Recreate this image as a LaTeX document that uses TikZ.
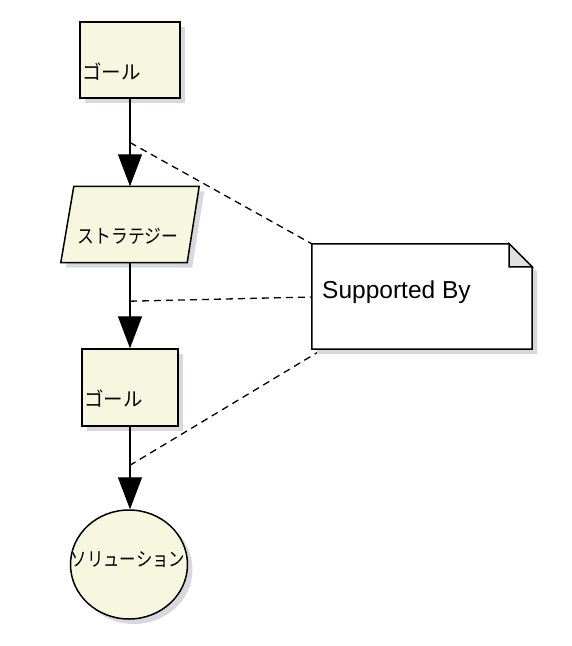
\documentclass[tikz,border=0pt]{standalone}
\usepackage{fontspec}
\usepackage{graphicx}
\setmainfont{Liberation Sans}
\newfontfamily\jp{Noto Sans CJK JP}
\usetikzlibrary{arrows.meta,shadows,calc,shapes.geometric}
\definecolor{boxfill}{RGB}{247,247,224}
\definecolor{shadowc}{RGB}{216,216,224}
\definecolor{foldc}{RGB}{224,224,224}
\begin{document}
\begin{tikzpicture}[x=1pt,y=-1pt,
  shapebox/.style={draw=black, line width=1.5pt, fill=boxfill, inner sep=0pt,
    drop shadow={shadow xshift=5pt, shadow yshift=-5pt, fill=shadowc, opacity=1}},
  conn/.style={line width=1.3pt, -{Triangle[width=24pt,length=32pt]}},
  dashline/.style={dash pattern=on 7pt off 5pt, line width=1.3pt},
  jptext/.style={font=\jp\fontsize{19.5}{22}\selectfont, inner sep=0pt},
  notetext/.style={font=\fontsize{24.5}{28}\selectfont, inner sep=0pt},
  hidden/.style={inner sep=0pt}
]
\useasboundingbox (0,0) rectangle (572,646);

% goal 1
\node[shapebox, minimum width=100pt, minimum height=76pt] (g1) at (130,60) {};
\node[jptext, anchor=west] (g1t) at (82,72) {ゴール};

% strategy (parallelogram)
\node[hidden, minimum width=138pt, minimum height=76pt] (s) at (130,224.5) {};
\fill[shadowc] ($(s.north west)+(13+5,5)$) -- ($(s.north east)+(5,5)$)
  -- ($(s.south east)+(-12+5,5)$) -- ($(s.south west)+(5,5)$) -- cycle;
\draw[line width=1.5pt, fill=boxfill] ($(s.north west)+(13,0)$) -- (s.north east)
  -- ($(s.south east)+(-12,0)$) -- (s.south west) -- cycle;
\node[jptext] (st) at (128,236) {\scalebox{0.86}[1]{ストラテジー}};

% goal 2
\node[shapebox, minimum width=96pt, minimum height=77pt] (g2) at (130,387.5) {};
\node[jptext, anchor=west] (g2t) at (84,399) {ゴール};

% solution
\node[shapebox, ellipse, minimum width=117pt, minimum height=109pt] (sol) at (129,564.5) {};
\node[jptext] (solt) at (128,560) {\scalebox{0.84}[1]{ソリューション}};

% connectors
\draw[conn] (g1) -- (s);
\draw[conn] (s) -- (g2);
\draw[conn] (g2) -- (g2 |- sol.north);

\coordinate (m1) at ($(g1.south)!0.5!(s.north)$);
\coordinate (m2) at ($(s.south)!0.45!(g2.north)$);
\coordinate (m3) at ($(g2.south)!0.47!(sol.north)$);

% note
\node[hidden, minimum width=220pt, minimum height=105pt] (note) at (422,296.5) {};

\draw[dashline] (m1) -- (note.north west);
\draw[dashline] (m2) -- ($(note.west)+(0,0.5)$);
\draw[dashline] (m3) -- ($(note.south west)+(6,3)$);

\fill[shadowc] ($(note.north west)+(5,5)$) -- ($(note.north east)+(-23+5,5)$)
  -- ($(note.north east)+(5,23+5)$) -- ($(note.south east)+(5,5)$)
  -- ($(note.south west)+(5,5)$) -- cycle;
\draw[line width=1.5pt, fill=white] (note.north west) -- ($(note.north east)+(-23,0)$)
  -- ($(note.north east)+(0,23)$) -- (note.south east) -- (note.south west) -- cycle;
\draw[line width=1.5pt, fill=foldc] ($(note.north east)+(-23,0)$) -- ($(note.north east)+(-23,23)$)
  -- ($(note.north east)+(0,23)$) -- cycle;
\node[notetext, anchor=base west] (nt) at (322,298) {Supported By};
\end{tikzpicture}
\end{document}
